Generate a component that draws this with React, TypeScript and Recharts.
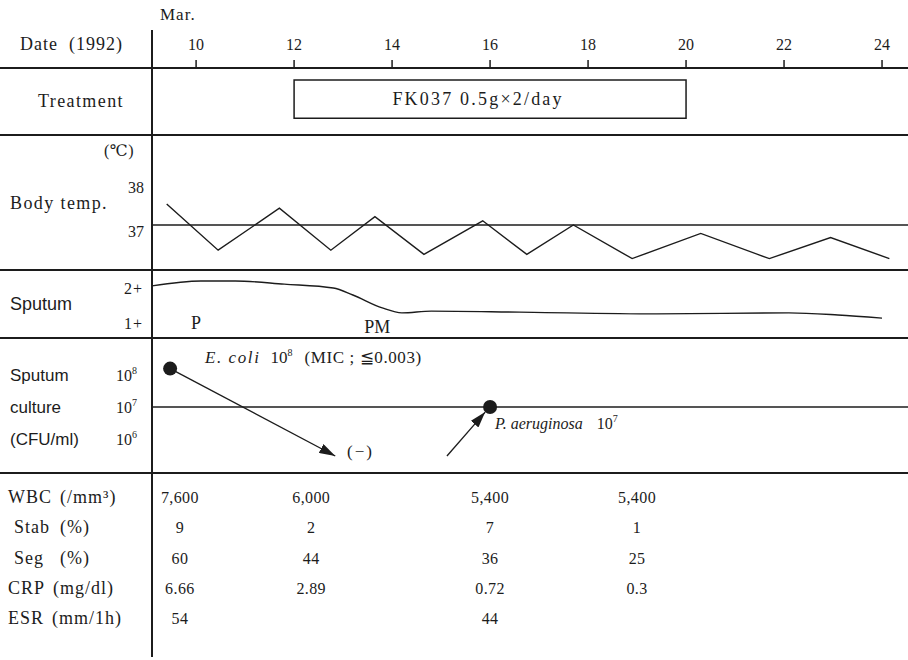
import React from "react";
import {
  ComposedChart,
  Line,
  Scatter,
  XAxis,
  YAxis,
  ReferenceLine,
  ReferenceArea,
} from "recharts";

const INK = "#1c1c1c";
const SERIF = '"Liberation Serif", "DejaVu Serif", serif';
const SANS = '"Liberation Sans", Arial, sans-serif';

// x axis: day of March 1992
const dateTicks = [10, 12, 14, 16, 18, 20, 22, 24];
const X_DOMAIN: [number, number] = [9.1, 24.53];

// treatment
const treatmentStart = 12;
const treatmentEnd = 20;
const treatmentLabel = "FK037 0.5g×2/day";

// body temperature (℃)
const tempDays = [9.4, 10.45, 11.7, 12.75, 13.65, 14.65, 15.85, 16.75, 17.7, 18.9, 20.3, 21.7, 22.95, 24.15];
const tempValues = [37.5, 36.4, 37.4, 36.4, 37.2, 36.3, 37.1, 36.3, 37.0, 36.2, 36.8, 36.2, 36.7, 36.2];
const tempTicks = [37, 38];

// sputum amount (1+ .. 2+)
const sputumDays = [9.1, 10.1, 10.8, 11.8, 12.8, 13.2, 13.8, 14.2, 14.8, 16.6, 19.4, 22.1, 23.1, 24.0];
const sputumValues = [2.06, 2.2, 2.2, 2.11, 2.0, 1.8, 1.43, 1.29, 1.34, 1.31, 1.26, 1.29, 1.23, 1.14];
const sputumTicks = [1, 2];
const sputumNoteDays = [10, 13.7];
const sputumNoteValues = [1.0, 0.9];
const sputumNoteLabels = ["P", "PM"];

// sputum culture (log10 CFU/ml)
const cultureTicks = [6, 7, 8];
const cultureTickNames = ["(CFU/ml)", "culture", "Sputum"];
const ecoliDay = 9.47;
const ecoliLog = 8.2;
const ecoliGoneDay = 12.84;
const ecoliGoneLog = 5.47;
const paeruDay = 16.0;
const paeruLog = 7;
const paeruArrowFrom = [15.12, 5.47];
const paeruArrowTo = [15.9, 6.84];
const cultureNoteDays = [10.18, 16.1, 13.08];
const cultureNoteValues = [8.56, 6.5, 5.62];
const cultureNoteKinds = ["ecoli", "paeru", "neg"];

// laboratory table
const labDays = [9.67, 12.35, 16, 19];
const rowNames = ["WBC", "Stab", "Seg", "CRP", "ESR"];
const rowUnits = ["(/mm³)", "(%)", "(%)", "(mg/dl)", "(mm/1h)"];
const wbc = [7600, 6000, 5400, 5400];
const stab = [9, 2, 7, 1];
const seg = [60, 44, 36, 25];
const crp = [6.66, 2.89, 0.72, 0.3];
const esr = [54, null, 44, null];

const W = 908;
const LABEL_W = 152;

const tempData = tempDays.map((d, i) => ({ day: d, v: tempValues[i] }));
const sputumData = sputumDays.map((d, i) => ({ day: d, v: sputumValues[i] }));
const sputumNotes = sputumNoteDays.map((d, i) => ({ day: d, v: sputumNoteValues[i], text: sputumNoteLabels[i] }));
const cultureNotes = cultureNoteDays.map((d, i) => ({ day: d, v: cultureNoteValues[i], kind: cultureNoteKinds[i] }));
const ecoliArrow = [
  { day: ecoliDay, v: ecoliLog },
  { day: ecoliGoneDay, v: ecoliGoneLog },
];
const paeruArrow = [
  { day: paeruArrowFrom[0], v: paeruArrowFrom[1] },
  { day: paeruArrowTo[0], v: paeruArrowTo[1] },
];
const cultureDots = [
  { day: ecoliDay, v: ecoliLog },
  { day: paeruDay, v: paeruLog },
];
const tableRows = [wbc, stab, seg, crp, esr];
const tableData = tableRows.flatMap((row, r) =>
  row
    .map((val, c) => ({ day: labDays[c], v: r, text: val == null ? "" : r === 0 ? val.toLocaleString("en-US") : String(val) }))
    .filter((p) => p.text !== "")
);

// section layout (px)
const sections = { dateBottom: 68, treatBottom: 135, tempBottom: 270, sputumBottom: 338, cultureBottom: 473 };

const Tag = ({ x, y, size = 18, family = SERIF, spacing = 1, children }: any) => (
  <div
    style={{
      position: "absolute",
      left: x,
      top: y,
      transform: "translateY(-50%)",
      fontFamily: family,
      fontSize: size,
      lineHeight: 1,
      letterSpacing: spacing,
      whiteSpace: "pre",
      color: INK,
    }}
  >
    {children}
  </div>
);

const Rule = ({ y }: { y: number }) => (
  <div style={{ position: "absolute", left: 0, top: y - 1, width: W, height: 2, background: INK }} />
);

const xHidden = <XAxis type="number" dataKey="day" domain={X_DOMAIN} allowDataOverflow hide />;

const TempTick = ({ x, y, payload }: any) => (
  <text x={x} y={y} dy={payload.value === 37 ? 12 : 10} textAnchor="end" fontFamily={SERIF} fontSize={16} fill={INK}>
    {payload.value}
  </text>
);

const SputumTick = ({ x, y, payload }: any) => (
  <text x={x} y={y} dy={6} textAnchor="end" fontFamily={SERIF} fontSize={16} letterSpacing={1} fill={INK}>
    {payload.value}+
  </text>
);

const CultureTick = ({ x, y, payload }: any) => (
  <g>
    <text x={10} y={y} dy={6} fontFamily={SANS} fontSize={17} fill={INK}>
      {cultureTickNames[cultureTicks.indexOf(payload.value)]}
    </text>
    <text x={x} y={y} dy={6} textAnchor="end" fontFamily={SERIF} fontSize={16} fill={INK}>
      10
      <tspan dy={-7} fontSize={10}>
        {payload.value}
      </tspan>
    </text>
  </g>
);

const TableTick = ({ y, payload }: any) => {
  const i = payload.value;
  const indent = rowUnits[i] === "(%)";
  return (
    <text y={y} dy={6} fontFamily={SERIF} fontSize={18} letterSpacing={1} fill={INK}>
      <tspan x={indent ? 14 : 8}>{rowNames[i]}</tspan>
      {indent ? <tspan x={60}>{rowUnits[i]}</tspan> : <tspan dx={8}>{rowUnits[i]}</tspan>}
    </text>
  );
};

const NoteText = ({ cx, cy, payload }: any) => (
  <text x={cx} y={cy} dy={6} textAnchor="middle" fontFamily={SERIF} fontSize={18} fill={INK}>
    {payload.text}
  </text>
);

const CultureNote = ({ cx, cy, payload }: any) => {
  if (payload.kind === "ecoli") {
    return (
      <text x={cx} y={cy} dy={6} fontFamily={SERIF} fontSize={17} fill={INK}>
        <tspan fontStyle="italic" letterSpacing={1.6}>E. coli</tspan>
        <tspan dx={10}>10</tspan>
        <tspan dy={-7} fontSize={10}>8</tspan>
        <tspan dy={7} dx={12} letterSpacing={0.6}>(MIC ; ≦0.003)</tspan>
      </text>
    );
  }
  if (payload.kind === "paeru") {
    return (
      <text x={cx} y={cy} dy={6} fontFamily={SERIF} fontSize={16} fill={INK}>
        <tspan fontStyle="italic">P. aeruginosa</tspan>
        <tspan dx={14}>10</tspan>
        <tspan dy={-7} fontSize={10}>7</tspan>
      </text>
    );
  }
  return (
    <text x={cx} y={cy} dy={6} fontFamily={SERIF} fontSize={17} letterSpacing={2} fill={INK}>
      (−)
    </text>
  );
};

const TableCell = ({ cx, cy, payload }: any) => (
  <text x={cx} y={cy} dy={6} textAnchor="middle" fontFamily={SERIF} fontSize={16} letterSpacing={0.4} fill={INK}>
    {payload.text}
  </text>
);

const Dot = ({ cx, cy }: any) => <circle cx={cx} cy={cy} r={7} fill={INK} />;

const treatmentText = ({ viewBox }: any) => (
  <text
    x={viewBox.x + viewBox.width / 2 - 12}
    y={viewBox.y + viewBox.height / 2}
    dy={6}
    textAnchor="middle"
    fontFamily={SERIF}
    fontSize={18}
    letterSpacing={2.2}
    fill={INK}
  >
    {treatmentLabel}
  </text>
);

const yAxisCommon = {
  width: LABEL_W,
  axisLine: { stroke: INK, strokeWidth: 2 },
  tickLine: false,
  tickSize: 0,
  type: "number" as const,
  allowDataOverflow: true,
  interval: 0 as const,
};

export default function App() {
  const s = sections;
  const tempH = s.tempBottom - s.treatBottom;
  const sputumH = s.sputumBottom - s.tempBottom;
  const cultureH = s.cultureBottom - s.sputumBottom;
  const tableH = 660 - s.cultureBottom;

  return (
    <div style={{ position: "absolute", left: 0, top: 0, width: W, height: 660, background: "#fff", overflow: "hidden" }}>
      {/* date axis + treatment */}
      <div style={{ position: "absolute", left: 0, top: 0 }}>
        <ComposedChart width={W} height={s.treatBottom} margin={{ top: 0, right: 0, bottom: 0, left: 0 }}>
          <XAxis
            type="number"
            dataKey="day"
            orientation="top"
            height={s.dateBottom}
            domain={X_DOMAIN}
            allowDataOverflow
            ticks={dateTicks}
            interval={0}
            tickSize={8}
            tickMargin={10}
            axisLine={false}
            tickLine={{ stroke: INK, strokeWidth: 1.5 }}
            tick={{ fill: INK, fontSize: 16, fontFamily: SERIF }}
          />
          <YAxis {...yAxisCommon} domain={[0, 1]} tick={false} />
          <ReferenceArea
            x1={treatmentStart}
            x2={treatmentEnd}
            y1={0.25}
            y2={0.82}
            fill="none"
            fillOpacity={0}
            stroke={INK}
            strokeWidth={1.5}
            label={treatmentText}
          />
        </ComposedChart>
      </div>

      {/* body temperature */}
      <div style={{ position: "absolute", left: 0, top: s.treatBottom }}>
        <ComposedChart width={W} height={tempH} margin={{ top: 0, right: 0, bottom: 0, left: 0 }}>
          {xHidden}
          <YAxis {...yAxisCommon} domain={[37 - 45 / 42, 37 + 90 / 42]} ticks={tempTicks} tick={<TempTick />} tickMargin={8} />
          <ReferenceLine y={37} stroke={INK} strokeWidth={1.5} />
          <Line data={tempData} dataKey="v" type="linear" stroke={INK} strokeWidth={1.4} dot={false} isAnimationActive={false} />
        </ComposedChart>
      </div>

      {/* sputum amount */}
      <div style={{ position: "absolute", left: 0, top: s.tempBottom }}>
        <ComposedChart width={W} height={sputumH} margin={{ top: 0, right: 0, bottom: 0, left: 0 }}>
          {xHidden}
          <YAxis {...yAxisCommon} domain={[1 - 15 / 35, 2 + 18 / 35]} ticks={sputumTicks} tick={<SputumTick />} tickMargin={9} />
          <Line data={sputumData} dataKey="v" type="monotone" stroke={INK} strokeWidth={1.4} dot={false} isAnimationActive={false} />
          <Scatter data={sputumNotes} dataKey="v" shape={NoteText} isAnimationActive={false} />
        </ComposedChart>
      </div>

      {/* sputum culture */}
      <div style={{ position: "absolute", left: 0, top: s.sputumBottom }}>
        <ComposedChart width={W} height={cultureH} margin={{ top: 0, right: 0, bottom: 0, left: 0 }}>
          <defs>
            <marker
              id="arrowHead"
              viewBox="0 0 16 10"
              refX={16}
              refY={5}
              markerWidth={16}
              markerHeight={10}
              markerUnits="userSpaceOnUse"
              orient="auto"
            >
              <path d="M0,0 L16,5 L0,10 z" fill={INK} />
            </marker>
          </defs>
          {xHidden}
          <YAxis {...yAxisCommon} domain={[7 - 66 / 32, 7 + 69 / 32]} ticks={cultureTicks} tick={<CultureTick />} tickMargin={15} />
          <ReferenceLine y={7} stroke={INK} strokeWidth={1.5} />
          <Line data={ecoliArrow} dataKey="v" type="linear" stroke={INK} strokeWidth={1.3} dot={false} markerEnd="url(#arrowHead)" isAnimationActive={false} />
          <Line data={paeruArrow} dataKey="v" type="linear" stroke={INK} strokeWidth={1.3} dot={false} markerEnd="url(#arrowHead)" isAnimationActive={false} />
          <Scatter data={cultureDots} dataKey="v" shape={Dot} isAnimationActive={false} />
          <Scatter data={cultureNotes} dataKey="v" shape={CultureNote} isAnimationActive={false} />
        </ComposedChart>
      </div>

      {/* laboratory table */}
      <div style={{ position: "absolute", left: 0, top: s.cultureBottom }}>
        <ComposedChart width={W} height={tableH} margin={{ top: 0, right: 0, bottom: 3, left: 0 }}>
          {xHidden}
          <YAxis
            {...yAxisCommon}
            reversed
            domain={[-24 / 30.25, 160 / 30.25]}
            ticks={[0, 1, 2, 3, 4]}
            tick={<TableTick />}
          />
          <Scatter data={tableData} dataKey="v" shape={TableCell} isAnimationActive={false} />
        </ComposedChart>
      </div>

      {/* header divider above the date axis */}
      <div style={{ position: "absolute", left: LABEL_W - 1, top: 30, width: 2, height: s.dateBottom - 30, background: INK }} />

      <Rule y={s.dateBottom} />
      <Rule y={s.treatBottom} />
      <Rule y={s.tempBottom} />
      <Rule y={s.sputumBottom} />
      <Rule y={s.cultureBottom} />

      <Tag x={160} y={14} size={17}>Mar.</Tag>
      <Tag x={20} y={44}>{"Date  (1992)"}</Tag>
      <Tag x={38} y={101} spacing={1.4}>Treatment</Tag>
      <Tag x={104} y={151} size={16} spacing={0.5}>(℃)</Tag>
      <Tag x={10} y={203} spacing={1.4}>Body temp.</Tag>
      <Tag x={10} y={304} family={SANS} spacing={0}>Sputum</Tag>
    </div>
  );
}
